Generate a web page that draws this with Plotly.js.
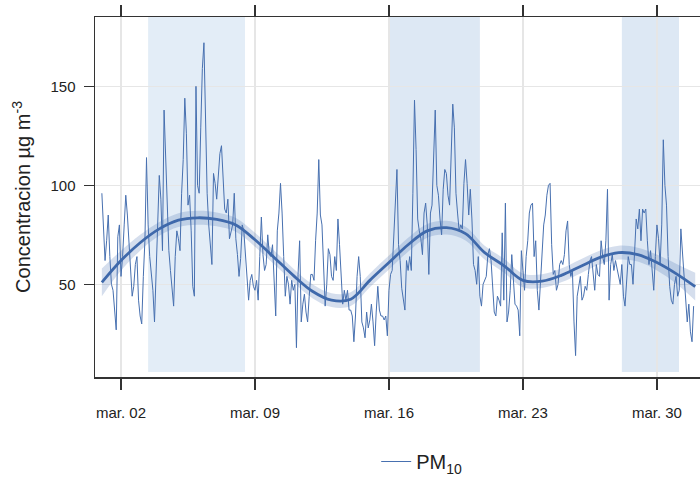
<!DOCTYPE html>
<html>
<head>
<meta charset="utf-8">
<script src="https://cdn.plot.ly/plotly-3.0.1.min.js"></script>
<style>html,body{margin:0;padding:0;background:#fff;}#chart{width:700px;height:481px;}</style>
</head>
<body>
<div id="chart"></div>
<script>
// PM10, two-hourly readings (12 per day), 1 to 31 March
const day01 = [96, 82, 62, 72, 85, 64, 50, 47, 36, 27, 74, 80];
const day02 = [54, 64, 80, 95, 85, 72, 54, 44, 49, 60, 64, 42];
const day03 = [34, 30, 54, 72, 114, 80, 64, 54, 47, 31, 60, 86];
const day04 = [105, 93, 67, 138, 113, 86, 67, 57, 47, 39, 64, 77];
const day05 = [73, 67, 96, 113, 144, 126, 90, 95, 77, 49, 44, 150];
const day06 = [100, 96, 129, 159, 172, 137, 96, 80, 67, 60, 106, 101];
const day07 = [93, 106, 116, 120, 100, 88, 86, 93, 73, 77, 80, 96];
const day08 = [73, 65, 54, 63, 80, 77, 64, 50, 42, 52, 55, 49];
const day09 = [47, 52, 42, 64, 84, 65, 57, 60, 75, 65, 64, 70];
const day10 = [47, 34, 77, 86, 101, 86, 64, 44, 54, 50, 40, 52];
const day11 = [47, 50, 18, 55, 72, 31, 40, 45, 36, 31, 44, 55];
const day12 = [55, 52, 72, 86, 113, 85, 80, 55, 39, 50, 68, 65];
const day13 = [54, 52, 64, 57, 83, 70, 54, 40, 47, 42, 47, 37];
const day14 = [37, 34, 21, 34, 54, 64, 54, 31, 28, 23, 36, 28];
const day15 = [32, 40, 31, 19, 36, 49, 37, 34, 34, 32, 34, 24];
const day16 = [47, 55, 57, 72, 90, 108, 70, 62, 48, 42, 37, 62];
const day17 = [57, 64, 57, 96, 143, 118, 83, 77, 73, 65, 86, 91];
const day18 = [80, 55, 86, 90, 118, 138, 100, 95, 83, 75, 98, 108];
const day19 = [106, 95, 90, 113, 141, 129, 96, 86, 77, 80, 78, 101];
const day20 = [113, 101, 85, 98, 83, 60, 57, 50, 64, 44, 39, 50];
const day21 = [52, 54, 65, 68, 62, 50, 36, 34, 44, 42, 39, 76];
const day22 = [42, 91, 31, 36, 47, 65, 54, 40, 39, 37, 24, 67];
const day23 = [57, 47, 64, 72, 86, 90, 91, 64, 72, 47, 37, 54];
const day24 = [67, 80, 85, 95, 100, 101, 70, 55, 57, 47, 50, 60];
const day25 = [62, 60, 65, 77, 82, 60, 54, 57, 31, 14, 44, 49];
const day26 = [54, 42, 44, 49, 47, 55, 62, 64, 54, 47, 60, 55];
const day27 = [54, 72, 64, 60, 72, 98, 42, 60, 65, 57, 62, 58];
const day28 = [55, 50, 60, 44, 39, 54, 64, 60, 60, 50, 64, 83];
const day29 = [78, 88, 72, 88, 86, 88, 72, 60, 67, 54, 47, 64];
const day30 = [80, 73, 60, 80, 123, 100, 90, 64, 49, 42, 40, 50];
const day31 = [54, 44, 47, 78, 65, 58, 39, 31, 40, 26, 21, 39];

// smooth trend at 00:00 of each day, 1 March .. 1 April
const trend = [51, 62, 71, 78, 82.4, 83.6, 82.8, 80, 72.5, 63.6, 54.5, 46.5, 42, 42.5, 52, 61,
               70, 77, 78.6, 75.6, 66, 59.5, 52, 51.6, 54.5, 59, 63.5, 66, 65, 61, 55.4, 48.8];
const trendHalfWidth = [7, 5, 4, 3.5, 3.5, 3.5, 3.5, 3.5, 3.5, 3.5, 3.5, 3.5, 3.5, 3.5, 3.5, 3.5,
                        3.5, 3.5, 3.5, 3.5, 3.5, 3.5, 3.5, 3.5, 3.5, 3.5, 3.5, 3.5, 3.5, 4, 5, 7];

// highlighted periods
const periodStart = ['2021-03-03 10:00', '2021-03-16 00:00', '2021-03-28 04:00'];
const periodEnd   = ['2021-03-08 11:30', '2021-03-20 18:00', '2021-03-31 03:40'];
const periodColor = ['#e3edf7', '#dde8f4', '#dde8f4'];

const tickDates  = ['2021-03-02', '2021-03-09', '2021-03-16', '2021-03-23', '2021-03-30'];
const tickLabels = ['mar. 02', 'mar. 09', 'mar. 16', 'mar. 23', 'mar. 30'];

const pm10 = [].concat(day01, day02, day03, day04, day05, day06, day07, day08, day09, day10,
  day11, day12, day13, day14, day15, day16, day17, day18, day19, day20, day21, day22, day23,
  day24, day25, day26, day27, day28, day29, day30, day31);

function fmt(ms) {
  const d = new Date(ms);
  const p = n => String(n).padStart(2, '0');
  return d.getUTCFullYear() + '-' + p(d.getUTCMonth() + 1) + '-' + p(d.getUTCDate()) + ' ' +
         p(d.getUTCHours()) + ':' + p(d.getUTCMinutes());
}
const t0 = Date.UTC(2021, 2, 1, 0, 0);
const rawX = pm10.map((_, i) => fmt(t0 + i * 2 * 3600e3));
const trendX = trend.map((_, i) => fmt(t0 + i * 24 * 3600e3));
const upper = trend.map((v, i) => v + trendHalfWidth[i]);
const lower = trend.map((v, i) => v - trendHalfWidth[i]);

const blue = '#3f69ab';
const traces = [
  {x: trendX, y: lower, mode: 'lines', line: {width: 0, shape: 'spline'}, showlegend: false, hoverinfo: 'skip'},
  {x: trendX, y: upper, mode: 'lines', line: {width: 0, shape: 'spline'}, fill: 'tonexty',
   fillcolor: 'rgba(63,105,171,0.22)', showlegend: false, hoverinfo: 'skip'},
  {x: rawX, y: pm10, mode: 'lines', name: 'PM<sub>10</sub>', line: {color: '#4770b0', width: 1}},
  {x: trendX, y: trend, mode: 'lines', line: {color: blue, width: 2.8, shape: 'spline'}, showlegend: false}
];

const shapes = periodStart.map((s, i) => ({
  type: 'rect', xref: 'x', yref: 'y', x0: s, x1: periodEnd[i], y0: 5.7, y1: 185,
  fillcolor: periodColor[i], line: {width: 0}, layer: 'below'
}));

const font = {family: 'Liberation Sans, Arial, sans-serif', color: '#222'};
const layout = {
  width: 700, height: 481,
  margin: {l: 95, r: 0, t: 17, b: 95},
  paper_bgcolor: '#fff', plot_bgcolor: '#fff',
  font: font,
  showlegend: true,
  legend: {orientation: 'h', x: 0.54, xanchor: 'center', y: -0.235, yanchor: 'middle',
           font: {family: font.family, size: 20, color: '#222'}},
  shapes: shapes,
  xaxis: {
    type: 'date', range: ['2021-02-28 15:24', '2021-04-01 06:00'],
    tickvals: tickDates, ticktext: tickLabels,
    showgrid: true, gridcolor: '#e6e6e6', gridwidth: 1.5,
    showline: true, linecolor: '#333', linewidth: 1.5, mirror: 'ticks',
    ticks: 'outside', ticklen: 11, tickcolor: '#333', tickwidth: 1.2,
    ticklabelstandoff: 10,
    tickfont: {family: font.family, size: 15, color: '#222'}, zeroline: false
  },
  yaxis: {
    range: [3.2, 185], tickvals: [50, 100, 150],
    showgrid: true, gridcolor: '#e6e6e6', gridwidth: 1.5,
    showline: true, linecolor: '#333', linewidth: 1.5, mirror: false,
    ticks: 'outside', ticklen: 10, tickcolor: '#333', tickwidth: 1.2,
    ticklabelstandoff: 5,
    tickfont: {family: font.family, size: 15, color: '#222'}, zeroline: false,
    title: {text: 'Concentracion µg m<sup>-3</sup>', font: {family: font.family, size: 20, color: '#222'}, standoff: 14}
  }
};

Plotly.newPlot('chart', traces, layout, {displayModeBar: false, staticPlot: true});
</script>
</body>
</html>
